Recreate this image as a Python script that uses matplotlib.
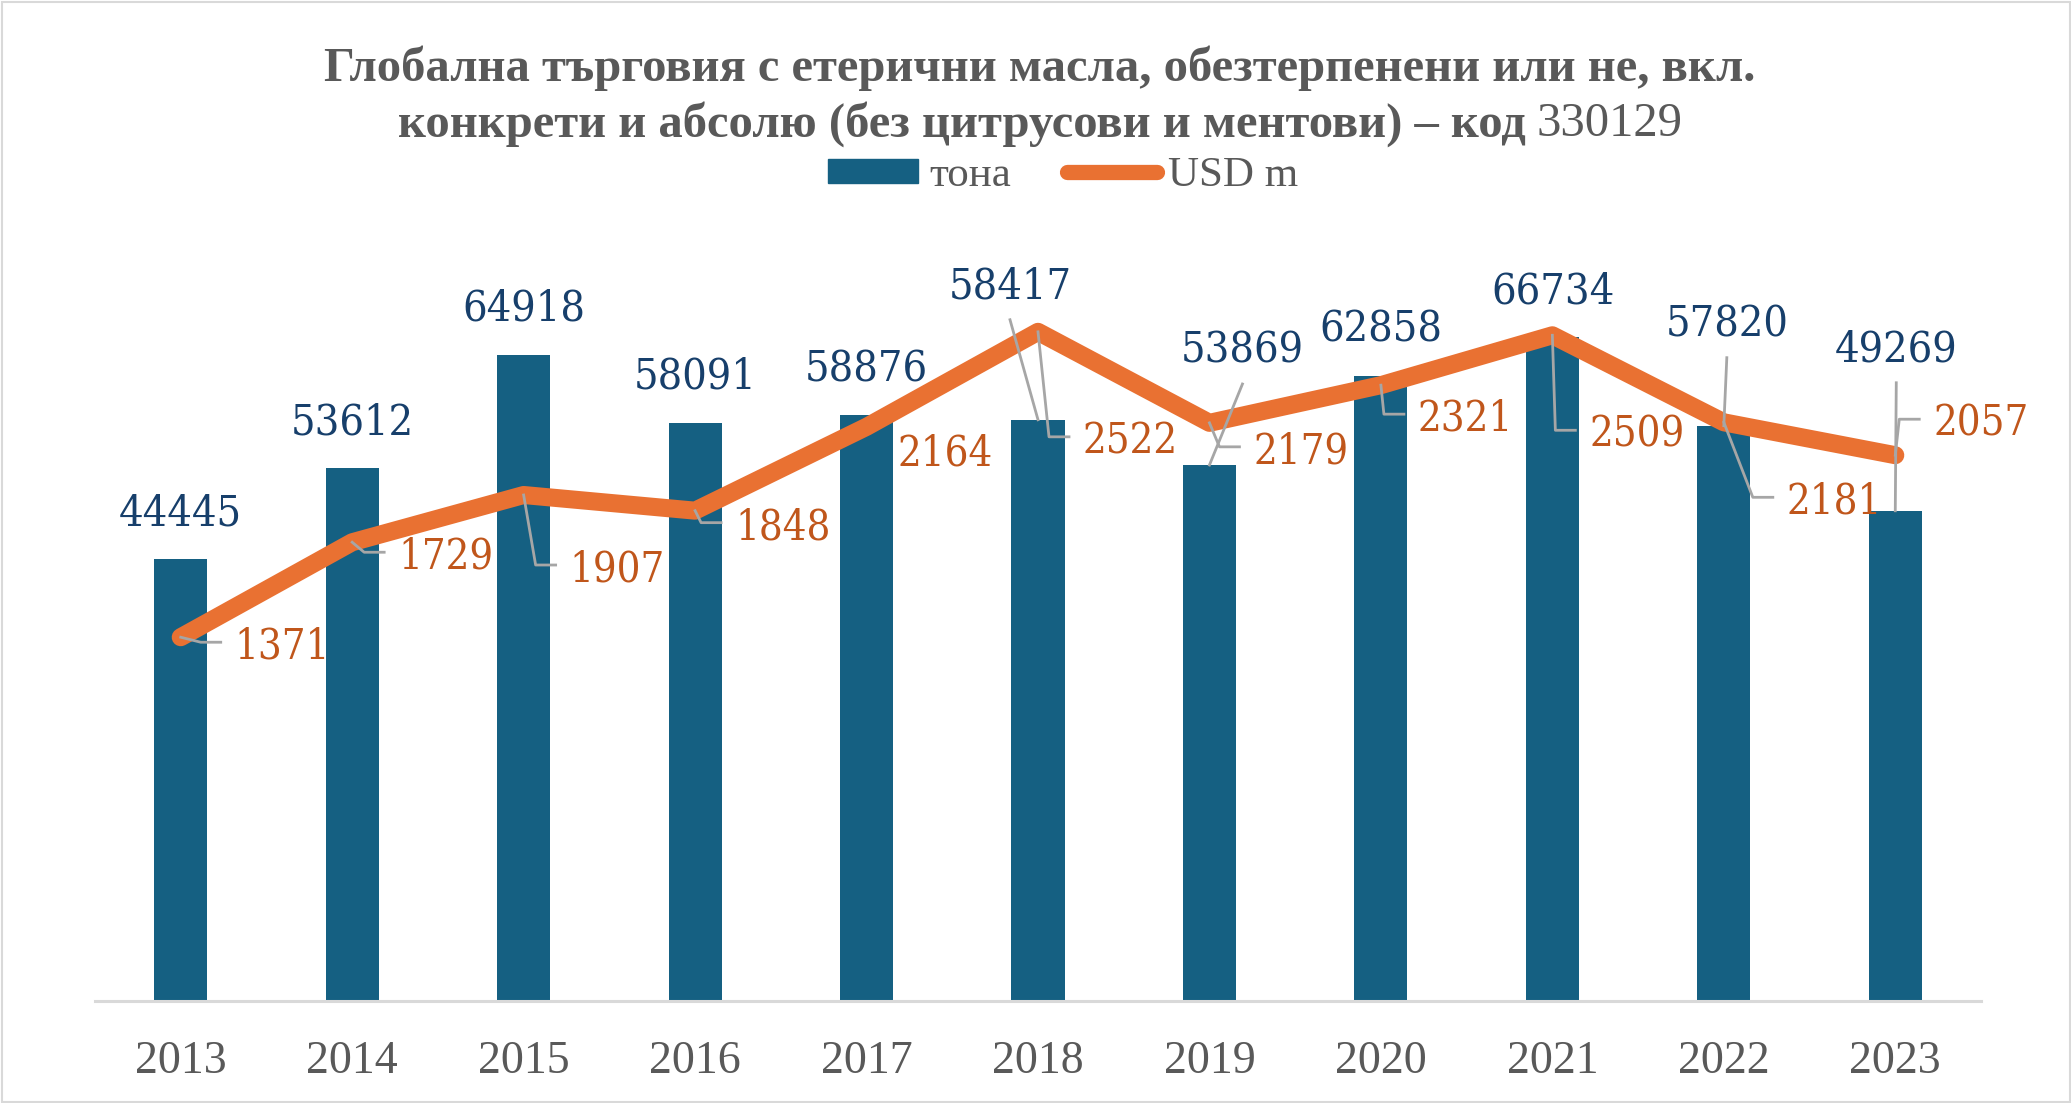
import numpy as np
import matplotlib
matplotlib.use("Agg")
import matplotlib.pyplot as plt
from matplotlib.patches import Patch, Rectangle
from matplotlib.lines import Line2D
from matplotlib.transforms import IdentityTransform

# data
years = ["2013", "2014", "2015", "2016", "2017", "2018",
         "2019", "2020", "2021", "2022", "2023"]
tonnes = [44445, 53612, 64918, 58091, 58876, 58417,
          53869, 62858, 66734, 57820, 49269]
usd_m = [1371, 1729, 1907, 1848, 2164, 2522,
         2179, 2321, 2509, 2181, 2057]

title_1 = "Глобална търговия с етерични масла, обезтерпенени или не, вкл."
title_2 = "конкрети и абсолю (без цитрусови и ментови) – код"
title_code = "330129"

# label placement in pixels (dx, dy), like dragged Excel labels
bar_lbl_off = [(0, 50), (0, 50), (0, 51), (0, 51), (0, 50), (-28, 138),
               (33, 119), (0, 51), (1, 50), (3, 106), (1, 166)]
line_lbl_off = [(54, 5), (46, 10), (46, 70), (40, 12), (31, 22), (45, 105),
                (44, 24), (37, 29), (37, 95), (63, 75), (38, -36)]
line_leader = [True, True, True, True, False, True,
               True, True, True, True, True]

bar_color = "#156082"
line_color = "#E97132"
bar_lbl_color = "#173F6B"
line_lbl_color = "#C0561B"
grey_txt = "#595959"
leader_color = "#A6A6A6"
num_font = "DejaVu Serif"
txt_font = "Liberation Serif"

W, H = 2071, 1103
fig = plt.figure(figsize=(W / 100, H / 100), dpi=100)


def fx(px):
    return px / W


def fy(py):
    return 1 - py / H


ax = fig.add_axes([fx(95), fy(1001), fx(1981) - fx(95), fy(205) - fy(1001)])
ax2 = ax.twinx()
x = np.arange(len(years))

ax.bar(x, tonnes, width=0.31, color=bar_color, zorder=2)
ax.set_xlim(-0.5, len(years) - 0.5)
ax.set_ylim(0, 80000)
ax2.set_ylim(0, 3000)
ax2.plot(x, usd_m, color=line_color, lw=13,
         solid_capstyle="round", solid_joinstyle="round", zorder=3)

for a in (ax, ax2):
    for s in a.spines.values():
        s.set_visible(False)
    a.set_yticks([])
    a.set_xticks([])
ax.spines["bottom"].set_visible(True)
ax.spines["bottom"].set_color("#D9D9D9")
ax.spines["bottom"].set_linewidth(2.2)

# year labels
for i, yr in enumerate(years):
    ax.annotate(yr, xy=(i, 0), xytext=(0, -56), textcoords="offset pixels",
                ha="center", va="center_baseline", fontsize=33,
                family=txt_font, color=grey_txt)

ident = IdentityTransform()

# bar labels (+ leaders when moved far)
for i, v in enumerate(tonnes):
    dx, dy = bar_lbl_off[i]
    ax2.annotate(f"{v}", xy=(i, v), xycoords=ax.transData, xytext=(dx, dy),
                 textcoords="offset pixels", ha="center", va="center_baseline",
                 fontsize=31, family=num_font, fontstretch="condensed",
                 color=bar_lbl_color, zorder=5)
    if dy > 80:
        bx, by = ax.transData.transform((i, v))
        fig.add_artist(Line2D([bx + dx, bx], [by + dy - 38, by],
                              transform=ident, color=leader_color, lw=2, zorder=6))

# line labels + leaders
for i, v in enumerate(usd_m):
    dx, dy = line_lbl_off[i]
    ax2.annotate(f"{v}", xy=(i, v), xytext=(dx, -dy),
                 textcoords="offset pixels", ha="left", va="center_baseline",
                 fontsize=30, family=num_font, fontstretch="condensed",
                 color=line_lbl_color, zorder=5)
    if line_leader[i]:
        px, py = ax2.transData.transform((i, v))
        xs = [px, px + dx - 34, px + dx - 14]
        ys = [py, py - dy, py - dy]
        fig.add_artist(Line2D(xs, ys, transform=ident, color=leader_color,
                              lw=2, zorder=6))

# legend
handles = [Patch(color=bar_color),
           Line2D([], [], color=line_color, lw=11, solid_capstyle="round")]
fig.legend(handles, ["тона", "USD m"], loc="center",
           bbox_to_anchor=(fx(1063), fy(176)), ncol=2, frameon=False,
           prop=dict(family=txt_font, size=31), labelcolor=grey_txt,
           handlelength=2.1, handleheight=0.5, handletextpad=0.25,
           columnspacing=1.3)

# title (two lines, the code number in regular weight)
r = fig.canvas.get_renderer()
tkw = dict(family=txt_font, size=35, color=grey_txt, va="center_baseline")
fig.text(fx(1040), fy(63), title_1, ha="center", weight="bold", **tkw)
tb = fig.text(0, fy(119), title_2, ha="left", weight="bold", **tkw)
tn = fig.text(0, fy(119), title_code, ha="left", weight="normal", **tkw)
w1 = tb.get_window_extent(r).width
w2 = tn.get_window_extent(r).width
gap = 11
x0 = 1040 - (w1 + gap + w2) / 2
tb.set_x(fx(x0))
tn.set_x(fx(x0 + w1 + gap))

# chart border
fig.add_artist(Rectangle((1.5, 1.5), W - 3, H - 3, transform=ident,
                         fill=False, edgecolor="#D9D9D9", lw=1.5))

fig.savefig("out.png", dpi=100)
